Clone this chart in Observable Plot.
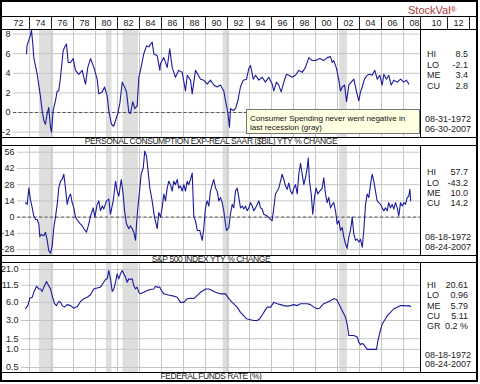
<!DOCTYPE html>
<html><head><meta charset="utf-8">
<script src="https://cdn.jsdelivr.net/npm/d3@7"></script>
<script src="https://cdn.jsdelivr.net/npm/@observablehq/plot@0.6"></script>
<style>
body{margin:0;background:#fff;}
#c{position:relative;width:480px;height:384px;overflow:hidden;font-family:"Liberation Sans",Arial,sans-serif;color:#222;}
#c > svg{position:absolute;left:0;}
.ln{position:absolute;background:#000;}
.tx{position:absolute;font-size:9px;line-height:12px;white-space:nowrap;color:#222;}
</style></head><body><div id="c"></div>
<script>
// ---------- data ----------
const consYears = [1972.73,1972.77,1972.91,1973.09,1973.18,1973.30,1973.39,1973.70,1974.00,1974.15,1974.30,1974.45,1974.61,1974.75,1974.91,1975.00,1975.15,1975.36,1975.52,1975.66,1975.82,1976.06,1976.21,1976.36,1976.52,1976.73,1976.97,1977.18,1977.48,1977.79,1978.09,1978.30,1978.55,1978.85,1979.15,1979.30,1979.61,1979.82,1980.06,1980.21,1980.45,1980.66,1980.82,1981.03,1981.21,1981.43,1981.64,1981.82,1982.03,1982.18,1982.39,1982.57,1982.79,1982.94,1983.09,1983.39,1983.64,1983.85,1984.15,1984.30,1984.61,1984.85,1984.91,1985.21,1985.52,1985.75,1985.97,1986.27,1986.57,1986.88,1987.18,1987.34,1987.64,1987.79,1988.09,1988.30,1988.55,1988.85,1989.15,1989.45,1989.75,1990.06,1990.36,1990.66,1990.82,1991.03,1991.18,1991.27,1991.52,1991.73,1991.94,1992.18,1992.43,1992.73,1992.94,1993.09,1993.34,1993.55,1993.85,1994.15,1994.45,1994.75,1995.06,1995.21,1995.45,1995.66,1995.88,1996.12,1996.36,1996.57,1996.88,1997.18,1997.48,1997.79,1998.09,1998.39,1998.70,1999.00,1999.39,1999.75,2000.06,2000.36,2000.52,2000.66,2000.91,2001.12,2001.27,2001.43,2001.64,2001.82,2002.03,2002.25,2002.48,2002.73,2002.94,2003.09,2003.25,2003.45,2003.70,2003.94,2004.15,2004.39,2004.61,2004.85,2005.06,2005.21,2005.45,2005.66,2005.88,2006.12,2006.43,2006.73,2007.03,2007.27,2007.48];
const consValues = [6.0,6.8,7.3,7.9,8.4,7.0,5.6,3.9,1.6,0.2,-0.8,-1.2,-0.1,0.5,-1.5,-2.0,0.2,1.2,2.2,2.2,3.6,6.3,6.7,7.0,5.1,5.1,5.5,4.3,3.9,4.3,2.9,4.6,5.5,4.6,3.4,1.9,2.1,2.6,1.7,0.2,-1.2,-1.4,-0.8,-0.1,0.9,3.1,2.6,2.1,0.0,-0.1,1.1,0.4,0.7,3.6,4.3,6.0,6.8,6.7,7.2,6.0,5.8,4.3,5.0,5.6,4.6,6.5,4.6,3.6,4.3,4.1,2.2,3.8,3.3,1.9,4.3,3.9,3.4,3.3,2.9,3.3,2.8,2.6,2.8,2.2,1.2,0.0,-1.5,0.4,0.2,0.4,1.2,2.6,3.3,3.4,4.5,4.8,3.4,3.8,3.3,3.6,3.1,3.6,2.9,2.2,3.1,2.8,2.1,3.1,3.9,3.8,3.6,3.8,4.3,4.1,4.6,5.6,5.3,5.3,5.5,5.3,5.6,5.7,5.1,5.3,4.5,3.3,2.2,2.6,2.8,1.1,2.8,3.1,3.4,2.1,1.2,2.1,2.6,3.4,3.8,3.9,3.8,4.3,3.4,3.8,2.8,3.9,3.4,3.8,2.8,3.3,3.1,3.4,3.1,3.3,2.9];

const spxYears = [1972.64,1972.79,1972.94,1973.09,1973.25,1973.39,1973.55,1973.70,1973.85,1973.94,1974.06,1974.30,1974.45,1974.61,1974.75,1974.91,1975.06,1975.21,1975.36,1975.52,1975.66,1975.82,1975.97,1976.12,1976.27,1976.43,1976.57,1976.73,1976.88,1977.03,1977.18,1977.34,1977.64,1977.79,1977.94,1978.18,1978.39,1978.55,1978.79,1978.94,1979.15,1979.30,1979.45,1979.61,1979.75,1980.00,1980.21,1980.36,1980.61,1980.82,1980.97,1981.12,1981.34,1981.52,1981.64,1981.82,1982.03,1982.18,1982.34,1982.48,1982.64,1982.73,1982.85,1983.03,1983.15,1983.34,1983.48,1983.64,1983.75,1983.94,1984.15,1984.36,1984.61,1984.75,1984.91,1985.06,1985.21,1985.36,1985.52,1985.66,1985.82,1985.97,1986.12,1986.27,1986.43,1986.57,1986.73,1986.88,1987.03,1987.18,1987.34,1987.48,1987.64,1987.79,1987.94,1988.09,1988.25,1988.48,1988.70,1988.85,1989.00,1989.15,1989.30,1989.45,1989.61,1989.75,1989.91,1990.06,1990.21,1990.36,1990.52,1990.66,1990.82,1990.91,1991.12,1991.27,1991.43,1991.57,1991.73,1991.88,1992.03,1992.18,1992.34,1992.48,1992.64,1992.79,1992.94,1993.09,1993.25,1993.39,1993.55,1993.70,1993.85,1994.00,1994.15,1994.30,1994.61,1994.91,1995.06,1995.21,1995.36,1995.52,1995.66,1995.82,1995.97,1996.12,1996.27,1996.43,1996.57,1996.73,1996.88,1997.03,1997.18,1997.34,1997.48,1997.64,1997.79,1997.94,1998.09,1998.25,1998.34,1998.45,1998.61,1998.75,1998.91,1999.06,1999.21,1999.39,1999.61,1999.75,1999.91,2000.06,2000.21,2000.36,2000.52,2000.66,2000.82,2000.97,2001.12,2001.27,2001.43,2001.57,2001.73,2001.88,2002.03,2002.18,2002.34,2002.48,2002.64,2002.79,2002.94,2003.09,2003.25,2003.39,2003.55,2003.70,2003.85,2004.00,2004.15,2004.30,2004.45,2004.61,2004.75,2004.91,2005.06,2005.21,2005.36,2005.52,2005.66,2005.82,2005.97,2006.12,2006.27,2006.43,2006.57,2006.73,2006.88,2007.03,2007.18,2007.34,2007.48,2007.58,2007.65];
const spxValues = [12.5,11,25,15,8,1,-2,-2,-6,-17,-15,-16,-13,-20,-29,-31,-25,-9,0,11,25,31,32.5,37,25,11,17,20,12.5,8,0,-2.5,-6,-7.5,-10,-13,-6,1,8,0,11,14,5.5,9.5,7,14,15.5,2.5,14,31,22.5,18,32.5,19.5,5.5,-6,-10,-7.5,-10,-13,-20,-6,8,25,37,42.5,57,52.5,42.5,25,14,0,-10,4,0,8,20,14,25,31,28,22.5,31,28,32.5,25,27,22.5,28,22.5,31,28,32.5,38,0,-3,-11.5,-11.5,-20,-9,8,14,9.5,22.5,28,32.5,25,22.5,14,17,12.5,5.5,-6,-11.5,-9,2.5,11,8,22.5,25,17,8,9.5,7,9.5,5.5,8,12.5,9.5,5.5,8,11,14,8,7,2.5,1,-2,-3,8,20,22.5,25,31,37,32.5,27,24,29.5,22.5,20,25,28,20,37,46.5,37,28,34,42.5,51,31,20,2.5,17,25,20,22.5,25,34,20,12.5,17,8,11,12.5,5.5,-6,-3,-11.5,-9,-17,-23,-27,-17,-11.5,0,-14.5,-20,-19,-21.5,-19,-26,-11.5,11,20,17,28,37,31,22.5,14,12.5,11,8,5.5,8,5.5,12.5,8,11,7,12.5,8,1,12.5,9.5,12.5,11,17,18,24,14.2];

const fedYears = [1972.64,1972.85,1973.03,1973.25,1973.39,1973.64,1973.85,1974.00,1974.15,1974.30,1974.55,1974.70,1974.91,1975.06,1975.27,1975.45,1975.66,1975.82,1975.97,1976.18,1976.43,1976.73,1977.03,1977.34,1977.64,1977.94,1978.25,1978.55,1978.85,1979.15,1979.45,1979.75,1979.91,1980.06,1980.21,1980.36,1980.52,1980.66,1980.82,1980.97,1981.12,1981.27,1981.43,1981.57,1981.73,1981.88,1982.03,1982.18,1982.34,1982.48,1982.64,1982.79,1982.94,1983.09,1983.39,1983.70,1984.00,1984.30,1984.45,1984.61,1984.85,1984.91,1985.21,1985.52,1985.82,1986.12,1986.43,1986.73,1987.03,1987.34,1987.64,1987.94,1988.25,1988.55,1989.00,1989.30,1989.61,1989.91,1990.36,1990.82,1991.12,1991.43,1991.88,1992.18,1992.48,1992.73,1993.09,1993.39,1993.70,1993.94,1994.30,1994.61,1994.91,1995.21,1995.52,1995.82,1996.12,1996.43,1996.73,1997.03,1997.34,1997.64,1997.94,1998.25,1998.55,1998.85,1999.15,1999.39,1999.45,1999.75,2000.06,2000.36,2000.66,2000.91,2001.12,2001.34,2001.57,2001.73,2001.88,2002.03,2002.18,2002.48,2002.79,2002.94,2003.09,2003.25,2003.39,2003.70,2004.00,2004.30,2004.55,2004.66,2004.85,2005.06,2005.27,2005.52,2005.82,2006.12,2006.43,2006.73,2007.03,2007.34,2007.55,2007.65];
const fedValues = [4.7,5.3,7.0,7.3,8.8,11.1,10.0,10.0,9.1,10.7,13.3,11.7,10.0,7.8,5.7,5.3,6.2,6.0,5.3,5.0,5.5,5.3,4.8,5.1,6.2,6.9,7.3,8.0,10.0,10.4,10.7,12.9,14.3,14.7,20.2,14.7,9.1,10.0,12.9,17.8,14.7,17.8,20.2,17.8,15.7,12.9,14.7,14.3,14.7,11.4,10.0,10.7,8.8,8.3,8.8,9.4,9.8,10.0,11.1,10.7,10.7,10.0,8.3,8.0,7.8,7.6,7.3,6.0,6.0,6.9,7.0,6.9,7.8,8.8,10.0,10.0,9.4,8.8,8.3,8.3,6.9,6.0,5.0,4.1,3.6,3.2,3.1,3.0,3.0,3.2,4.1,5.0,5.0,6.0,5.7,5.5,5.3,5.2,5.3,5.5,5.3,5.7,5.7,5.7,5.5,5.0,4.7,4.8,5.0,5.7,6.0,6.4,6.9,6.7,5.7,4.7,3.9,3.4,2.6,1.7,1.7,1.7,1.6,1.3,1.2,1.25,1.2,1.0,1.0,1.0,1.0,1.35,1.9,2.6,3.0,3.6,4.1,4.7,5.0,5.3,5.3,5.25,5.3,5.11];

const recessionStarts = [1973.9, 1980.0, 1981.5, 1990.6, 2001.2];
const recessionEnds   = [1975.2, 1980.5, 1982.9, 1991.2, 2001.9];

const yearLabels = ["72","74","76","78","80","82","84","86","88","90","92","94","96","98","00","02","04","06","08","10","12"];
const yearLabelPos = d3.range(1972, 2013, 2);
const gridYears  = d3.range(1973, 2008, 2);       // 73 .. 07
const headerExtraSeps = [2011, 2013];

const consTicks = [-2, 0, 2, 4, 6, 8];
const spxTicks  = [-28, -14, 0, 14, 28, 42, 56];
const fedTicks  = [0.5, 1.0, 1.5, 3.0, 6.0, 11.5, 21.0];

const titles = ["PERSONAL CONSUMPTION EXP-REAL SAAR ($BIL)  YTY % CHANGE", "S&P 500 INDEX  YTY % CHANGE", "FEDERAL FUNDS RATE (%)"];
const statLabels = [["HI","LO","ME","CU"],["HI","LO","ME","CU"],["HI","LO","ME","CU","GR"]];
const statValues = [["8.5","-2.1","3.4","2.8"],["57.7","-43.2","10.0","14.2"],["20.61","0.96","5.79","5.11","0.2 %"]];
const statDates  = [["08-31-1972","06-30-2007"],["08-18-1972","08-24-2007"],["08-18-1972","08-24-2007"]];
const note = ["Consumer Spending never went negative in", "last recession (gray)"];

// ---------- layout ----------
const C = document.getElementById("c");
const pxToYear = px => 1973 + (px - 29) / 11;
const PLOT_R = 420;
const LINE = "#1a1a9c", GRID = "#c6c6c6", SHADE = "#dedede";
const FONT = "Liberation Sans, Arial, sans-serif";
const recessions = recessionStarts.map((s, i) => ({s, e: recessionEnds[i]}));

function place(svg, top) { svg.style.top = top + "px"; C.appendChild(svg); }

function panel({top, height, ml, ydomain, ytype, ticks, fmt, values, years, zero}) {
  const data = years.map((t, i) => ({t, v: values[i]}));
  const marks = [
    Plot.rect(recessions, {x1: "s", x2: "e", fill: SHADE}),
    Plot.ruleX(gridYears, {stroke: GRID, strokeWidth: 1}),
    Plot.ruleY(ticks, {stroke: GRID, strokeWidth: 1}),
  ];
  if (zero) marks.push(Plot.ruleY([0], {stroke: "#555", strokeDasharray: "3,2.5"}));
  marks.push(Plot.line(data, {x: "t", y: "v", stroke: LINE, strokeWidth: 1.1}));
  marks.push(Plot.text(ticks, {y: d => d, frameAnchor: "left", textAnchor: "end", dx: -3, text: d => fmt(d), fontSize: 9, fill: "#222"}));
  const svg = Plot.plot({
    width: 480, height, marginLeft: ml, marginRight: 480 - PLOT_R, marginTop: 0, marginBottom: 0,
    style: {fontFamily: FONT, background: "transparent", overflow: "visible"},
    x: {domain: [pxToYear(ml), pxToYear(PLOT_R)], axis: null},
    y: {domain: ydomain, type: ytype, axis: null, label: null},
    marks
  });
  place(svg, top);
}

// year header row
{
  const svg = Plot.plot({
    width: 480, height: 14, marginLeft: 7, marginRight: 3, marginTop: 0, marginBottom: 0,
    style: {fontFamily: FONT, background: "transparent"},
    x: {domain: [pxToYear(7), pxToYear(477)], axis: null},
    y: {axis: null},
    marks: [
      Plot.ruleX(gridYears.concat([pxToYear(PLOT_R)], headerExtraSeps), {stroke: "#222"}),
      Plot.text(yearLabelPos, {x: d => d, frameAnchor: "middle", text: (d, i) => yearLabels[i], fontSize: 9, fill: "#222"})
    ]
  });
  place(svg, 16);
}

panel({top: 30, height: 107, ml: 13, ydomain: [-2.551, 8.367], ytype: "linear", ticks: consTicks, fmt: d3.format("d"), years: consYears, values: consValues, zero: true});
panel({top: 145, height: 110, ml: 17, ydomain: [-33.1, 61.8], ytype: "linear", ticks: spxTicks, fmt: d3.format("d"), years: spxYears, values: spxValues, zero: true});
panel({top: 262, height: 110, ml: 21, ydomain: [0.4136, 27.41], ytype: "log", ticks: fedTicks, fmt: d3.format(".1f"), years: fedYears, values: fedValues, zero: false});

// ---------- frame lines ----------
function line(x, y, w, h, color) {
  const d = document.createElement("div"); d.className = "ln";
  Object.assign(d.style, {left: x + "px", top: y + "px", width: w + "px", height: h + "px"});
  if (color) d.style.background = color;
  C.appendChild(d);
}
[16, 29, 137, 145, 255, 262, 372].forEach(y => line(2, y, 474, 1));
line(PLOT_R, 29, 1, 108); line(PLOT_R, 145, 1, 110); line(PLOT_R, 262, 1, 110);
// outer border
line(0, 0, 478, 2); line(0, 380, 478, 2); line(0, 0, 2, 382); line(476, 0, 2, 382);

// ---------- texts ----------
function text(str, x, yc, opts = {}) {
  const d = document.createElement("div"); d.className = "tx"; d.textContent = str;
  d.style.top = (yc - 6) + "px";
  if (opts.align === "right") { d.style.right = (480 - x) + "px"; }
  else if (opts.align === "center") { d.style.left = (x - 100) + "px"; d.style.width = "200px"; d.style.textAlign = "center"; }
  else d.style.left = x + "px";
  if (opts.size) d.style.fontSize = opts.size + "px";
  if (opts.color) d.style.color = opts.color;
  if (opts.ls) d.style.letterSpacing = opts.ls + "px";
  C.appendChild(d); return d;
}
function fitTitle(str, cx, yc, target) {
  const d = text(str, 0, yc, {size: 8.5});
  const w = d.getBoundingClientRect().width;
  const ls = (target - w) / str.length;
  d.style.letterSpacing = ls + "px";
  const w2 = d.getBoundingClientRect().width;
  d.style.left = (cx - w2 / 2) + "px";
}
fitTitle(titles[0], 211, 141, 252);
fitTitle(titles[1], 211, 259, 118);
fitTitle(titles[2], 211, 376, 101);

// stock val logo
{
  const d = text("StockVal", 0, 10, {size: 11, color: "#b03a3a"});
  d.style.left = "408px";
  const r = document.createElement("span"); r.textContent = "®"; r.style.fontSize = "8px"; r.style.verticalAlign = "top";
  d.appendChild(r);
}

// stats
const statRows = [[54, 64.5, 75, 85.5], [172, 182.5, 193, 203], [285, 295, 305.5, 316, 326]];
const dateRows = [[119, 128.5], [236.5, 246.5], [354.5, 363.5]];
statLabels.forEach((labs, p) => {
  labs.forEach((l, i) => {
    text(l, 427, statRows[p][i]);
    text(statValues[p][i], 468, statRows[p][i], {align: "right"});
  });
  statDates[p].forEach((s, i) => text(s, 448, dateRows[p][i], {align: "center"}));
});

// annotation box
{
  const b = document.createElement("div");
  Object.assign(b.style, {position: "absolute", left: "246px", top: "109px", width: "172px", height: "23px",
    background: "#ffffe1", border: "1px solid #777"});
  C.appendChild(b);
  text(note[0], 250, 119, {color: "#111", size: 8});
  text(note[1], 250, 127.5, {color: "#111", size: 8});
}
</script></body></html>
